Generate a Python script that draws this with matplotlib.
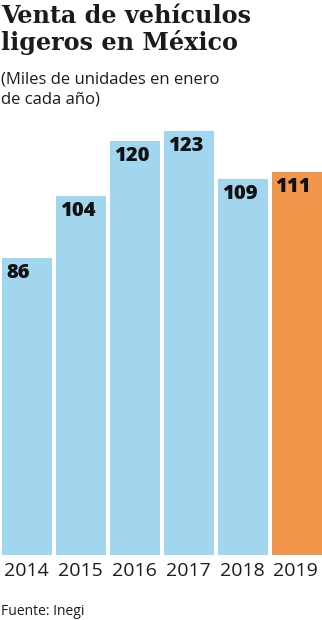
import matplotlib
matplotlib.use("Agg")
import matplotlib.pyplot as plt

YEARS = ["2014", "2015", "2016", "2017", "2018", "2019"]
SALES = [86, 104, 120, 123, 109, 111]
BAR_COLORS = ["#a2d5ee", "#a2d5ee", "#a2d5ee", "#a2d5ee", "#a2d5ee", "#f2964c"]

TITLE = ["Venta de vehículos", "ligeros en México"]
SUBTITLE = ["(Miles de unidades en enero", "de cada año)"]
SOURCE = "Fuente: Inegi"

W, H = 322, 620
INK = "#1b1b1b"


def px_y(y):
    """pixel row from top -> figure fraction"""
    return 1 - y / H


fig = plt.figure(figsize=(W / 100, H / 100), dpi=100)
fig.patch.set_facecolor("white")

# axes: baseline at y=555 px, 3.45 px per unit
ymax = 130
bottom_px = 555
height_px = ymax * 3.45
ax = fig.add_axes([2 / W, 1 - bottom_px / H, 320 / W, height_px / H])

width = 0.935
x = list(range(len(YEARS)))
ax.bar(x, SALES, width=width, color=BAR_COLORS, linewidth=0)
ax.set_xlim(-width / 2, len(YEARS) - 1 + width / 2)
ax.set_ylim(0, ymax)
ax.axis("off")

for i, v in enumerate(SALES):
    ax.annotate(str(v), xy=(i - width / 2, v), xytext=(4, -5),
                textcoords="offset pixels", ha="left", va="top",
                fontsize=14.5, fontweight="heavy", family="Open Sans", color="#111111")
    ax.annotate(YEARS[i], xy=(i, 0), xytext=(-1, -21),
                textcoords="offset pixels", ha="center", va="baseline",
                fontsize=14, family="Open Sans", color=INK)

fig.text(1 / W, px_y(23), TITLE[0], fontsize=17.2, fontweight="bold",
         family="DejaVu Serif", color=INK, va="baseline", ha="left")
fig.text(1 / W, px_y(50), TITLE[1], fontsize=17.2, fontweight="bold",
         family="DejaVu Serif", color=INK, va="baseline", ha="left")
fig.text(1 / W, px_y(83), SUBTITLE[0], fontsize=12, family="Open Sans",
         color=INK, va="baseline", ha="left")
fig.text(1 / W, px_y(103), SUBTITLE[1], fontsize=12, family="Open Sans",
         color=INK, va="baseline", ha="left")
fig.text(1 / W, px_y(615), SOURCE, fontsize=10, family="Open Sans",
         color=INK, va="baseline", ha="left")

fig.savefig("out.png", dpi=100, facecolor="white")
